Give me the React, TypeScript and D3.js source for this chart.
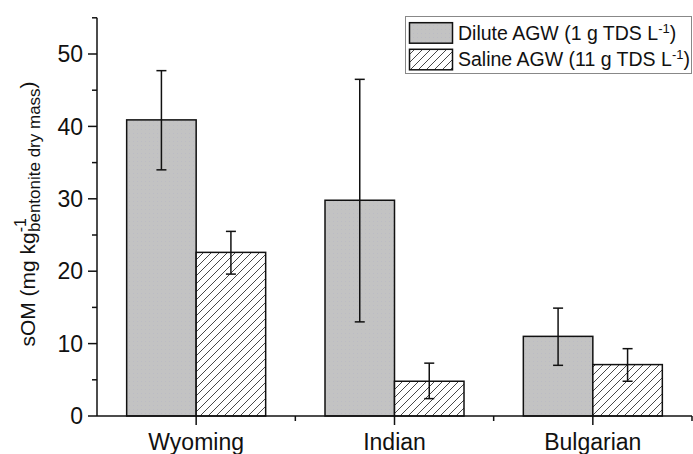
import React, { useEffect, useRef } from 'react';
import * as d3 from 'd3';

const categories = ['Wyoming', 'Indian', 'Bulgarian'];
const dilute = [40.9, 29.8, 11.0];
const diluteLow = [34.0, 13.0, 7.0];
const diluteHigh = [47.7, 46.5, 14.9];
const saline = [22.6, 4.8, 7.1];
const salineLow = [19.6, 2.4, 4.8];
const salineHigh = [25.5, 7.3, 9.3];
const yTicks = [0, 10, 20, 30, 40, 50];
const yMinor = [5, 15, 25, 35, 45, 55];

const W = 693;
const H = 454;
const FONT = 'Liberation Sans, Arial, sans-serif';

const App = () => {
  const svgRef = useRef<SVGSVGElement>(null);

  useEffect(() => {
    const svg = d3.select(svgRef.current);
    svg.selectAll('*').remove();

    const left = 97;
    const right = 692;
    const bottom = 416;
    const top = 17.8;

    const x = d3.scaleLinear().domain([0.5, 3.5]).range([left, right]);
    const y = d3.scaleLinear().domain([0, 55]).range([bottom, top]);
    const bw = 69.5;

    // patterns
    const defs = svg.append('defs');
    const dots = defs.append('pattern')
      .attr('id', 'dots')
      .attr('patternUnits', 'userSpaceOnUse')
      .attr('width', 4).attr('height', 4);
    dots.append('rect').attr('width', 4).attr('height', 4).attr('fill', '#c3c3c3');
    dots.append('rect').attr('x', 1).attr('y', 1).attr('width', 1).attr('height', 1).attr('fill', '#bcbcc4');

    const hatch = defs.append('pattern')
      .attr('id', 'hatch')
      .attr('patternUnits', 'userSpaceOnUse')
      .attr('width', 8).attr('height', 8);
    hatch.append('rect').attr('width', 8).attr('height', 8).attr('fill', '#fff');
    hatch.append('path')
      .attr('d', 'M-2,2 L2,-2 M0,8 L8,0 M6,10 L10,6')
      .attr('stroke', '#333')
      .attr('stroke-width', 0.9);

    const g = svg.append('g');

    // bars
    const series = [
      { vals: dilute, lo: diluteLow, hi: diluteHigh, fill: 'url(#dots)', off: -1 },
      { vals: saline, lo: salineLow, hi: salineHigh, fill: 'url(#hatch)', off: 0 },
    ];

    series.forEach(s => {
      g.selectAll(null)
        .data(s.vals)
        .enter()
        .append('rect')
        .attr('x', (_d, i) => x(i + 1) + s.off * bw)
        .attr('y', d => y(d))
        .attr('width', bw)
        .attr('height', d => y(0) - y(d))
        .attr('fill', s.fill)
        .attr('stroke', '#111')
        .attr('stroke-width', 1.5);
    });

    // error bars
    series.forEach(s => {
      s.vals.forEach((_v, i) => {
        const cx = x(i + 1) + s.off * bw + bw / 2;
        const eg = g.append('g').attr('stroke', '#111').attr('stroke-width', 1.5);
        eg.append('line').attr('x1', cx).attr('x2', cx).attr('y1', y(s.lo[i])).attr('y2', y(s.hi[i]));
        [s.lo[i], s.hi[i]].forEach(v => {
          eg.append('line').attr('x1', cx - 5).attr('x2', cx + 5).attr('y1', y(v)).attr('y2', y(v));
        });
      });
    });

    // y axis
    const yAxis = g.append('g').attr('stroke', '#111').attr('stroke-width', 1.5);
    yAxis.append('line').attr('x1', left).attr('x2', left).attr('y1', y(0)).attr('y2', y(55));
    yTicks.forEach(t => {
      yAxis.append('line').attr('x1', left - 9).attr('x2', left).attr('y1', y(t)).attr('y2', y(t));
    });
    yMinor.forEach(t => {
      yAxis.append('line').attr('x1', left - 5).attr('x2', left).attr('y1', y(t)).attr('y2', y(t));
    });
    g.selectAll(null)
      .data(yTicks)
      .enter()
      .append('text')
      .attr('x', left - 14)
      .attr('y', d => y(d))
      .attr('dy', '0.36em')
      .attr('text-anchor', 'end')
      .style('font-family', FONT)
      .style('font-size', '23px')
      .attr('fill', '#111')
      .text(d => d);

    // x axis
    const xAxis = g.append('g').attr('stroke', '#111').attr('stroke-width', 1.5);
    xAxis.append('line').attr('x1', left).attr('x2', right).attr('y1', bottom).attr('y2', bottom);
    categories.forEach((_c, i) => {
      xAxis.append('line').attr('x1', x(i + 1)).attr('x2', x(i + 1)).attr('y1', bottom).attr('y2', bottom + 9);
      xAxis.append('line').attr('x1', x(i + 1.5)).attr('x2', x(i + 1.5)).attr('y1', bottom).attr('y2', bottom + 5);
    });
    g.selectAll(null)
      .data(categories)
      .enter()
      .append('text')
      .attr('x', (_d, i) => x(i + 1))
      .attr('y', 450)
      .attr('text-anchor', 'middle')
      .style('font-family', FONT)
      .style('font-size', '23px')
      .attr('fill', '#111')
      .text(d => d);

    // y label
    const yl = g.append('text')
      .attr('transform', `translate(35, ${214}) rotate(-90)`)
      .attr('text-anchor', 'middle')
      .style('font-family', FONT)
      .style('font-size', '21px')
      .attr('fill', '#111');
    yl.append('tspan').text('sOM (mg kg');
    yl.append('tspan').attr('dy', -9).style('font-size', '16px').text('-1');
    yl.append('tspan').attr('dx', -14).attr('dy', 14).style('font-size', '17px').text('bentonite dry mass');
    yl.append('tspan').attr('dy', -5).text(')');

    // legend
    const lg = g.append('g');
    lg.append('rect')
      .attr('x', 405.5).attr('y', 16.5).attr('width', 286).attr('height', 57)
      .attr('fill', '#fff').attr('stroke', '#888').attr('stroke-width', 1);
    const items = [
      { fill: 'url(#dots)', label: 'Dilute AGW (1 g TDS L' },
      { fill: 'url(#hatch)', label: 'Saline AGW (11 g TDS L' },
    ];
    items.forEach((it, i) => {
      const yy = 22.7 + i * 26.6;
      lg.append('rect')
        .attr('x', 409.5).attr('y', yy).attr('width', 43).attr('height', 20.5)
        .attr('fill', it.fill).attr('stroke', '#111').attr('stroke-width', 1.5);
      const t = lg.append('text')
        .attr('x', 458).attr('y', yy + 17)
        .style('font-family', FONT)
        .style('font-size', '19.5px')
        .attr('fill', '#111');
      t.append('tspan').text(it.label);
      t.append('tspan').attr('dy', -7).style('font-size', '13px').text('-1');
      t.append('tspan').attr('dy', 7).text(')');
    });
  }, []);

  return (
    <svg ref={svgRef} width={W} height={H}
      style={{ position: 'absolute', left: 0, top: 0, background: '#fff' }} />
  );
};

export default App;
